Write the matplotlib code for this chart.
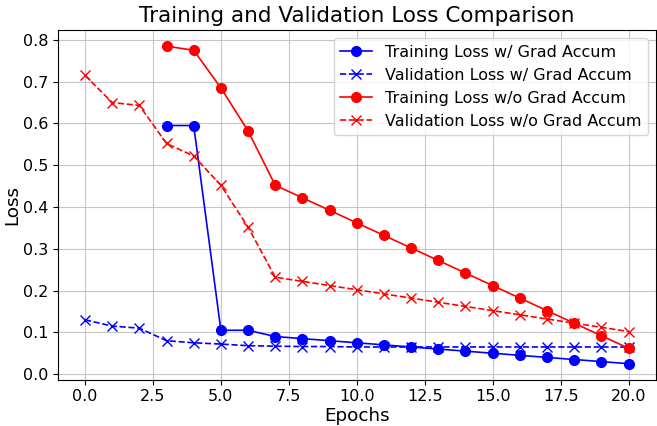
import matplotlib
matplotlib.use("Agg")
from matplotlib import pyplot as plt

# эпохи
epochs_full = list(range(0, 21))
epochs_train = list(range(3, 21))

# потери с накоплением градиента
train_loss_accum = [0.595, 0.595, 0.105, 0.105, 0.090, 0.085, 0.080, 0.075, 0.070,
                    0.065, 0.060, 0.055, 0.050, 0.045, 0.040, 0.035, 0.030, 0.025]
val_loss_accum = [0.130, 0.115, 0.110, 0.080, 0.075, 0.072, 0.068, 0.067, 0.066, 0.066,
                  0.065, 0.065, 0.065, 0.065, 0.065, 0.065, 0.065, 0.065, 0.065, 0.065, 0.065]

# потери без накопления градиента
train_loss_plain = [0.785, 0.775, 0.685, 0.582, 0.452, 0.422, 0.392, 0.362, 0.332,
                    0.302, 0.272, 0.242, 0.212, 0.182, 0.152, 0.122, 0.092, 0.062]
val_loss_plain = [0.715, 0.650, 0.643, 0.552, 0.522, 0.452, 0.352, 0.232, 0.222, 0.212,
                  0.202, 0.192, 0.182, 0.172, 0.162, 0.152, 0.142, 0.132, 0.122, 0.112, 0.102]

fig, ax = plt.subplots(figsize=(6.57, 4.26), dpi=100)
fig.subplots_adjust(left=0.088, right=0.998, top=0.929, bottom=0.109)

ax.plot(epochs_train, train_loss_accum, 'b-o', markersize=7, linewidth=1.2, label='Training Loss w/ Grad Accum')
ax.plot(epochs_full, val_loss_accum, 'b--x', markersize=7, linewidth=1.2, label='Validation Loss w/ Grad Accum')
ax.plot(epochs_train, train_loss_plain, 'r-o', markersize=7, linewidth=1.2, label='Training Loss w/o Grad Accum')
ax.plot(epochs_full, val_loss_plain, 'r--x', markersize=7, linewidth=1.2, label='Validation Loss w/o Grad Accum')

ax.set_title('Training and Validation Loss Comparison', fontsize=15.5)
ax.set_xlabel('Epochs', fontsize=13.2, labelpad=2)
ax.set_ylabel('Loss', fontsize=13.2, labelpad=1)
ax.tick_params(labelsize=11.5)
ax.grid(True, alpha=0.7)
ax.legend(fontsize=11.5)

plt.savefig('out.png')
